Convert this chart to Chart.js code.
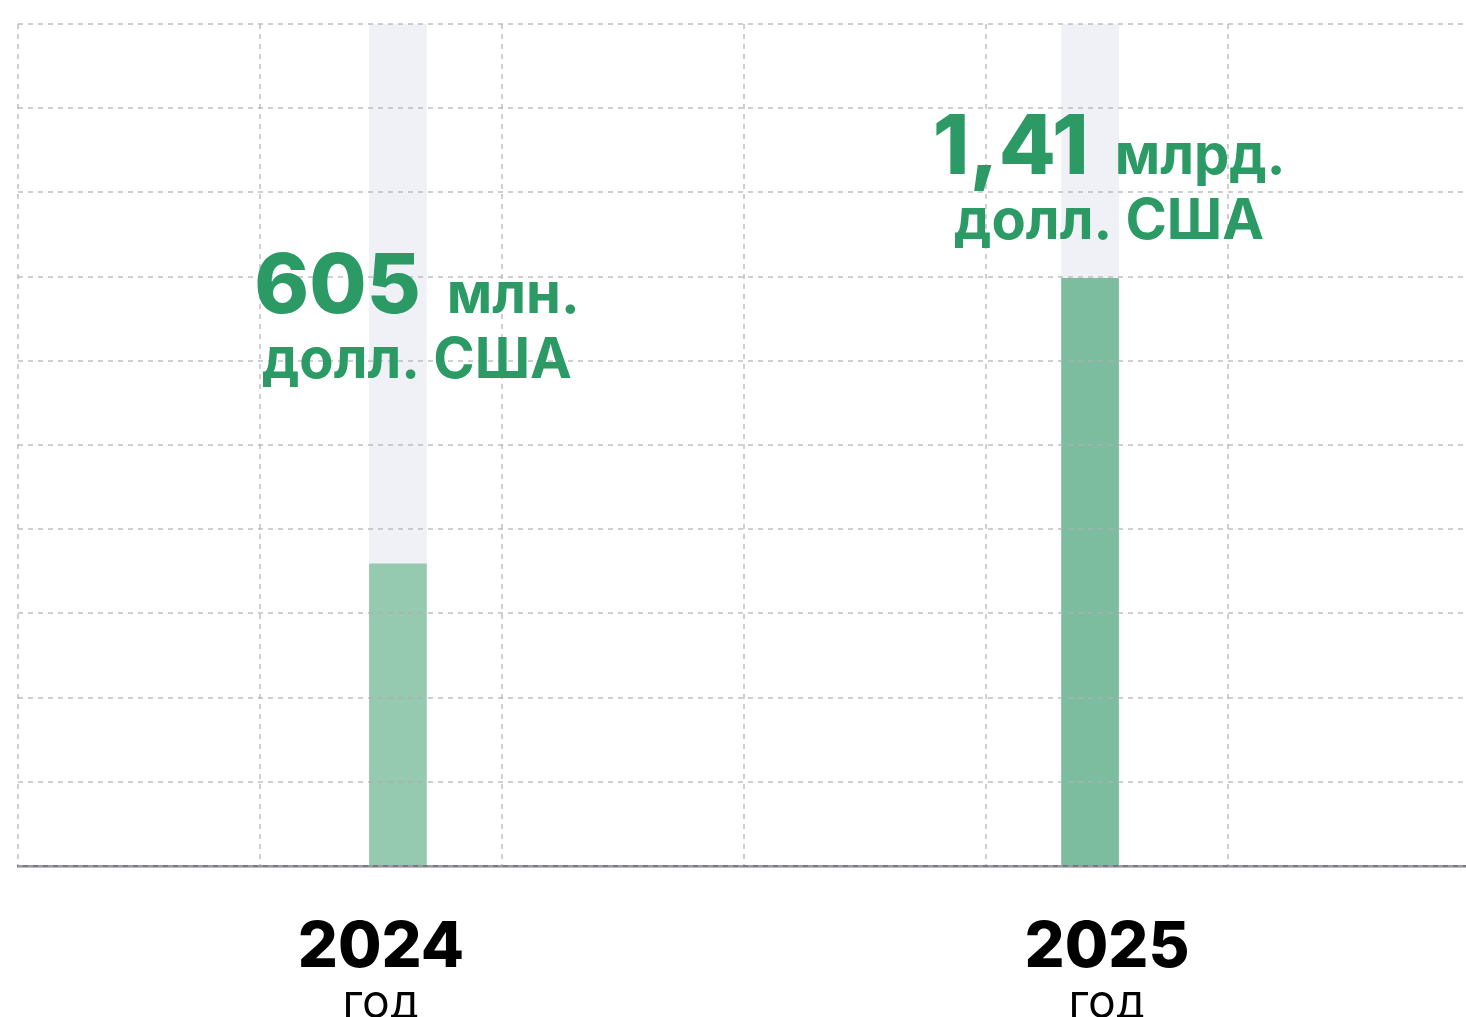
<!DOCTYPE html>
<html lang="ru">

<head>
    <meta charset="UTF-8">
    <meta name="viewport" content="width=device-width, initial-scale=1.0">
    <script src="https://cdn.jsdelivr.net/npm/chart.js@4.4.1/dist/chart.umd.min.js"></script>
    <title>Объём: 2024 и 2025 год</title>
    <style>
        html, body {
            margin: 0;
            padding: 0;
            overflow: hidden;
            background: #fff;
        }

        #wrap {
            width: 1472px;
            height: 1017px;
            position: relative;
        }
    </style>
</head>

<body>
    <div id="wrap"><canvas id="myChart"></canvas></div>

    <script>
        // data (bar heights in grid units, 0..10)
        const years = ['2024', '2025'];
        const yearUnit = ['ГОД', 'ГОД'];
        const barX = [1.57, 4.43];
        const barHeight = [3.59, 6.98];
        const fullHeight = [10, 10];
        const amounts = ['605', '1,41'];
        const amountUnits = ['млн.', 'млрд.'];
        const currency = ['долл. США', 'долл. США'];

        const green = '#2b9a65';
        const gridColor = 'rgba(175,175,180,0.6)';

        // big green captions above the bars
        const amountLabels = {
            id: 'amountLabels',
            afterDraw(chart, args, opts) {
                const ctx = chart.ctx;
                const meta = chart.getDatasetMeta(1);
                const yScale = chart.scales.y;
                ctx.save();
                ctx.fillStyle = opts.color;
                ctx.textBaseline = 'alphabetic';
                meta.data.forEach((bar, i) => {
                    const cx = bar.x + opts.dx;
                    const y1 = yScale.getPixelForValue(opts.levels[i]);
                    ctx.font = opts.bigFont;
                    const wN = ctx.measureText(amounts[i]).width;
                    ctx.font = opts.smallFont;
                    const wU = ctx.measureText(amountUnits[i]).width;
                    const x0 = cx - (wN + opts.gap + wU) / 2;
                    ctx.textAlign = 'left';
                    ctx.font = opts.bigFont;
                    ctx.fillText(amounts[i], x0, y1);
                    ctx.font = opts.smallFont;
                    ctx.fillText(amountUnits[i], x0 + wN + opts.gap, y1);
                    ctx.textAlign = 'center';
                    ctx.fillText(currency[i], cx, y1 + opts.lineGap);
                });
                ctx.restore();
            }
        };

        const ctx = document.getElementById('myChart').getContext('2d');

        new Chart(ctx, {
            type: 'bar',
            data: {
                datasets: [{
                    label: 'фон',
                    data: barX.map((x, i) => ({ x: x, y: fullHeight[i] })),
                    backgroundColor: '#f0f1f7',
                    grouped: false,
                    barThickness: 57,
                    order: 2
                }, {
                    label: 'сумма',
                    data: barX.map((x, i) => ({ x: x, y: barHeight[i] })),
                    backgroundColor: ['#95c9b0', '#7bbd9e'],
                    grouped: false,
                    barThickness: 57,
                    order: 1
                }]
            },
            options: {
                responsive: true,
                maintainAspectRatio: false,
                animation: false,
                layout: { padding: { left: 18, top: 24, right: 2, bottom: 0 } },
                plugins: {
                    legend: { display: false },
                    tooltip: { enabled: false },
                    amountLabels: {
                        color: green,
                        levels: [6.57, 8.22],
                        dx: 19,
                        gap: 26,
                        lineGap: 65,
                        bigFont: '800 83px Inter',
                        smallFont: '700 56px Inter'
                    }
                },
                scales: {
                    x: {
                        type: 'linear',
                        position: 'bottom',
                        weight: 0,
                        min: 0,
                        max: 6,
                        offset: false,
                        ticks: { display: false, stepSize: 1 },
                        grid: { offset: false, color: gridColor, lineWidth: 2, drawTicks: false, z: 1 },
                        border: { display: true, color: 'rgba(95,93,108,0.82)', width: 2.5, dash: [5, 5], z: 1 }
                    },
                    xYear: {
                        type: 'category',
                        labels: years,
                        position: 'bottom',
                        weight: 1,
                        offset: true,
                        grid: { display: false, drawTicks: false },
                        border: { display: false },
                        ticks: {
                            color: '#000',
                            padding: 44,
                            font: { family: 'Inter', size: 63, weight: 800 }
                        },
                        afterFit: (s) => { s.height = 120; }
                    },
                    xUnit: {
                        type: 'category',
                        labels: yearUnit,
                        position: 'bottom',
                        weight: 2,
                        offset: true,
                        grid: { display: false, drawTicks: false },
                        border: { display: false },
                        ticks: {
                            color: '#000',
                            padding: 0,
                            font: { family: 'Inter', size: 35, weight: 500 }
                        },
                        afterFit: (s) => { s.height = 31; }
                    },
                    y: {
                        min: 0,
                        max: 10,
                        ticks: { display: false, stepSize: 1 },
                        grid: { color: gridColor, lineWidth: 2, drawTicks: false, z: 1 },
                        border: { display: false, dash: [5, 5] }
                    }
                }
            },
            plugins: [amountLabels]
        });
    </script>
</body>

</html>
